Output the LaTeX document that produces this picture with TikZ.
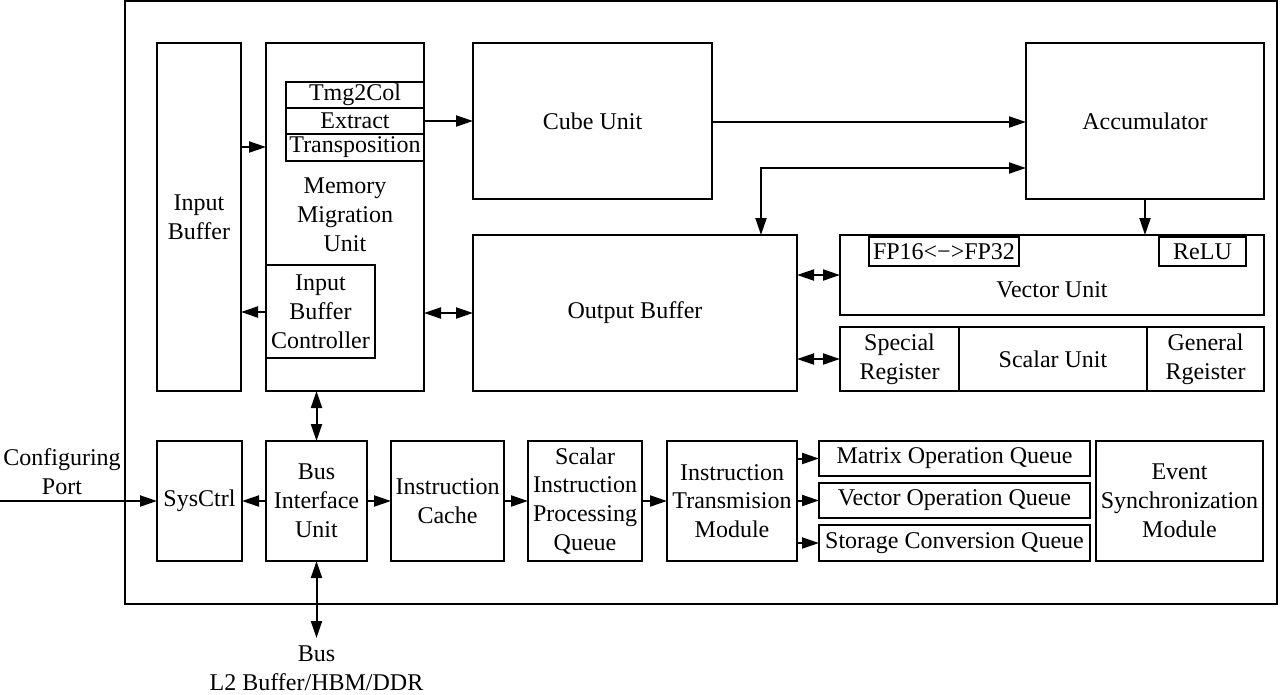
\documentclass[tikz,border=0pt]{standalone}
\usepackage{fontspec}
\setmainfont{Liberation Serif}
\usetikzlibrary{arrows.meta}
\newcommand\fs{\fontsize{24}{28.8}\selectfont}
\newcommand\bx[6]{\node[box, minimum width={(#4-#2)*1pt}, minimum height={(#5-#3)*1pt}] (#1) at ({(#2+#4)/2},{(#3+#5)/2}) {#6};}
\begin{document}
\begin{tikzpicture}[x=1pt,y=-1pt,
  box/.style={draw, line width=2pt, inner sep=0pt, outer sep=0pt, align=center, font=\fs},
  txt/.style={inner sep=0pt, align=center, font=\fs},
  arr/.style={line width=2pt, -{Triangle[length=17pt,width=11pt]}},
  arr2/.style={line width=2pt, {Triangle[length=17pt,width=11pt]}-{Triangle[length=17pt,width=11pt]}}]
\useasboundingbox (0,0) rectangle (1280,694);
% frame
\bx{chip}{125}{1}{1277}{604}{}
% upper part
\bx{inbuf}{157}{43}{241}{391}{Input\\Buffer}
\bx{mmu}{266}{43}{424}{391}{}
\node[txt] (mmutext) at (345,215) {Memory\\Migration\\Unit};
\bx{tmg}{286}{82}{424}{108}{Tmg2Col}
\bx{extract}{286}{108}{424}{134}{Extract}
\bx{trans}{286}{134}{424}{161}{Transposition}
\bx{ibc}{266}{265}{375}{358}{Input\\Buffer\\Controller}
\bx{cube}{473}{43}{712}{199}{Cube Unit}
\bx{acc}{1026}{43}{1264}{199}{Accumulator}
\bx{outbuf}{473}{235}{797}{391}{Output Buffer}
\bx{vec}{840}{235}{1264}{315}{}
\node[txt] (vectext) at (1052,290) {Vector Unit};
\bx{fp}{869}{237}{1019}{266}{FP16<−>FP32}
\bx{relu}{1159}{237}{1246}{266}{ReLU}
\bx{special}{840}{327}{959}{391}{Special\\Register}
\bx{scalar}{959}{327}{1147}{391}{Scalar Unit}
\bx{general}{1147}{327}{1264}{391}{General\\Rgeister}
% lower part
\bx{sys}{157}{441}{242}{561}{SysCtrl}
\bx{biu}{266}{441}{367}{561}{Bus\\Interface\\Unit}
\bx{cache}{391}{441}{504}{561}{Instruction\\Cache}
\bx{sq}{528}{441}{642}{561}{Scalar\\Instruction\\Processing\\Queue}
\bx{itm}{667}{441}{797}{561}{Instruction\\Transmision\\Module}
\bx{mq}{819}{441}{1090}{476}{Matrix Operation Queue}
\bx{vq}{819}{483}{1090}{518}{Vector Operation Queue}
\bx{scq}{819}{525}{1090}{561}{Storage Conversion Queue}
\bx{esm}{1096}{441}{1263}{561}{Event\\Synchronization\\Module}
% outside labels
\node[txt] (cfglabel) at (62,472) {Configuring\\Port};
\node[txt] (buslabel) at (316.5,668) {Bus\\L2 Buffer/HBM/DDR};
\coordinate (cfg) at (0,501);
\coordinate (busend) at (316.5,638);
% connectors
\draw[arr] (inbuf.east |- 0,147) -- (mmu.west |- 0,147);
\draw[arr] (mmu.west |- 0,312) -- (inbuf.east |- 0,312);
\draw[arr] (extract.east) -- (cube.west |- extract.east);
\draw[arr] (cube.east |- 0,122) -- (acc.west |- 0,122);
\draw[arr2] (acc.west |- 0,168) -| (outbuf.north -| 761,0);
\draw[arr] (acc.south) -- (vec.north -| acc.south);
\draw[arr2] (outbuf.east |- vec.west) -- (vec.west);
\draw[arr2] (outbuf.east |- special.west) -- (special.west);
\draw[arr2] (mmu.east |- outbuf.west) -- (outbuf.west);
\draw[arr2] (mmu.south -| biu.north) -- (biu.north);
\draw[arr] (cfg) -- (sys.west);
\draw[arr] (biu.west) -- (sys.east);
\draw[arr] (biu.east) -- (cache.west);
\draw[arr] (cache.east) -- (sq.west);
\draw[arr] (sq.east) -- (itm.west);
\draw[arr] (itm.east |- mq.west) -- (mq.west);
\draw[arr] (itm.east |- vq.west) -- (vq.west);
\draw[arr] (itm.east |- scq.west) -- (scq.west);
\draw[arr2] (biu.south) -- (busend);
\end{tikzpicture}
\end{document}
